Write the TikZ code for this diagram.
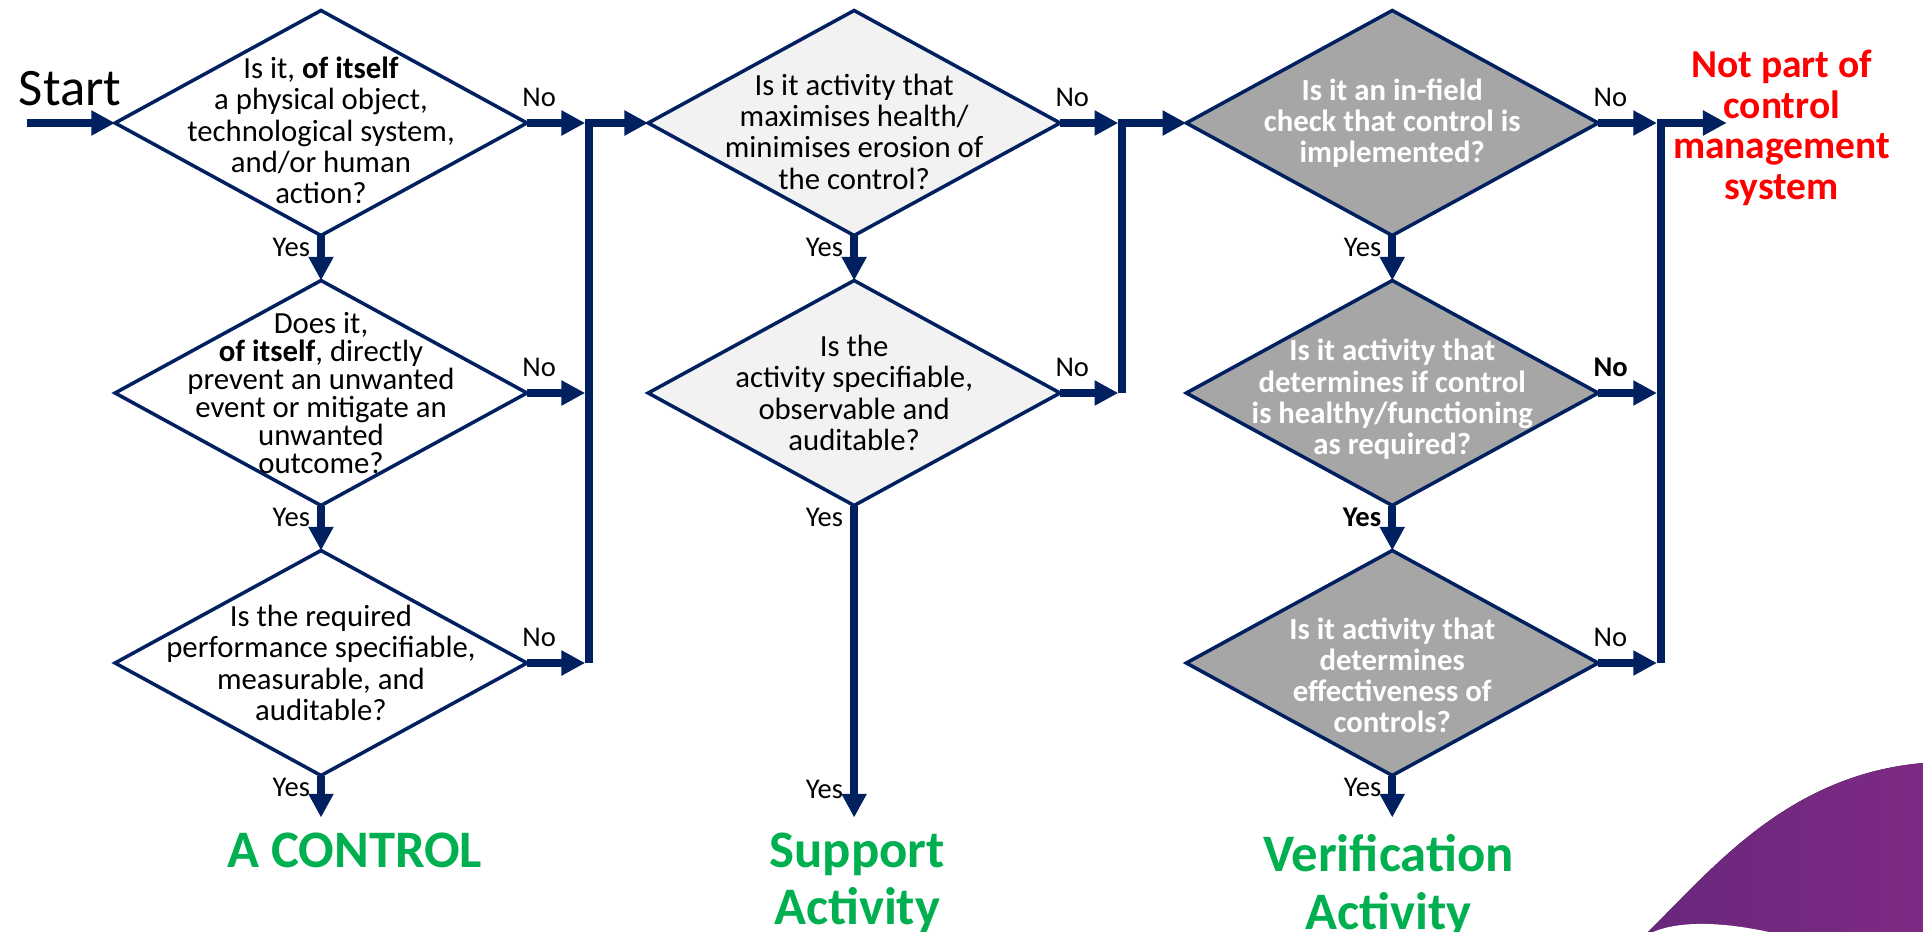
\documentclass[tikz,border=0pt]{standalone}
\usepackage{fontspec}
\setmainfont{Carlito}
\usetikzlibrary{positioning, shapes.geometric, arrows.meta}

\definecolor{flowblue}{HTML}{002060}
\definecolor{lightq}{HTML}{F2F2F2}
\definecolor{darkq}{HTML}{A6A6A6}
\definecolor{okgreen}{HTML}{00B050}
\definecolor{nored}{HTML}{FF0000}
\definecolor{plumL}{RGB}{104,40,124}
\definecolor{plumR}{RGB}{126,41,131}

\begin{document}
\begin{tikzpicture}[
        node distance=0.72cm and 1.94cm,
        decision/.style={diamond, draw=flowblue, line width=1.6pt, fill=white, minimum width=6.59cm, minimum height=3.6cm, inner sep=0pt, outer sep=0pt},
        softq/.style={decision, fill=lightq},
        hardq/.style={decision, fill=darkq},
        qtext/.style={align=center, inner sep=0pt, font=\fontsize{14}{14.2}\selectfont},
        hardtext/.style={qtext, text=white, font=\fontsize{14}{14.2}\selectfont\bfseries},
        lbl/.style={inner sep=0pt, font=\fontsize{13}{13}\selectfont},
        boldlbl/.style={font=\fontsize{13}{13}\selectfont\bfseries},
        nolbl/.style={lbl, anchor=south west, xshift=-0.08cm, yshift=0.25cm},
        yeslbl/.style={lbl, anchor=south east, xshift=-0.17cm, yshift=-0.34cm},
        result/.style={align=center, inner sep=0pt, text=okgreen, font=\fontsize{24}{26}\selectfont\bfseries},
        link/.style={-{Triangle[length=10.8pt, width=10.8pt]}, draw=flowblue, line width=3.6pt},
        tobus/.style={link, shorten >=1.7pt}
    ]

    \useasboundingbox (0,0) rectangle (30.768,-14.912);

    % Corner swoosh
    \fill[left color=plumL, right color=plumR] (26.368,-14.912) .. controls (27.4,-13.9) and (28.6,-12.4) .. (30.768,-12.208) -- (30.768,-14.912) -- cycle;
    \fill[white] (26.45,-14.912) .. controls (26.9,-14.72) and (27.6,-14.76) .. (28.3,-14.912) -- cycle;

    % Column 1: is it a control?
    \node[decision] (d1) at (5.136,-1.968) {};
    \node[decision, below=of d1] (d2) {};
    \node[decision, below=of d2] (d3) {};
    \node[qtext, yshift=-0.12cm] (q1) at (d1) {Is it, \textbf{of itself}\\a physical object,\\technological system,\\and/or human\\action?};
    \node[qtext, font=\fontsize{14}{12.7}\selectfont] (q2) at (d2) {Does it,\\\textbf{of itself}, directly\\prevent an unwanted\\event or mitigate an\\unwanted\\outcome?};
    \node[qtext] (q3) at (d3) {Is the required\\performance specifiable,\\measurable, and\\auditable?};

    % Column 2: support activity
    \node[softq, right=of d1] (d4) {};
    \node[softq, below=of d4] (d5) {};
    \node[qtext, yshift=-0.14cm] (q4) at (d4) {Is it activity that\\maximises health/\\minimises erosion of\\the control?};
    \node[qtext] (q5) at (d5) {Is the\\activity specifiable,\\observable and\\auditable?};

    % Column 3: verification activity
    \node[hardq, right=2.02cm of d4] (d6) {};
    \node[hardq, below=of d6] (d7) {};
    \node[hardq, below=of d7] (d8) {};
    \node[hardtext] (q6) at (d6) {Is it an in-field\\check that control is\\implemented?};
    \node[hardtext, yshift=-0.1cm] (q7) at (d7) {Is it activity that\\determines if control\\is healthy/functioning\\as required?};
    \node[hardtext, yshift=-0.2cm] (q8) at (d8) {Is it activity that\\determines\\effectiveness of\\controls?};

    % Start
    \coordinate (start) at ([xshift=-1.416cm]d1.west);
    \node[anchor=south west, inner sep=0pt, font=\fontsize{24}{24}\selectfont] (st) at ([xshift=-0.13cm, yshift=0.26cm]start) {Start};
    \draw[link] (start) -- (d1.west);

    % Buses
    \coordinate (b1t) at ([xshift=0.992cm]d1.east);
    \coordinate (b1b) at (b1t |- d3.east);
    \coordinate (b2t) at ([xshift=0.992cm]d4.east);
    \coordinate (b2b) at (b2t |- d5.east);
    \coordinate (b3t) at ([xshift=1cm]d6.east);
    \coordinate (b3b) at (b3t |- d8.east);
    \coordinate (nt) at ([xshift=1.056cm]b3t);

    \draw[link] (b1b) -- (b1t) -- (d4.west);
    \draw[link] (b2b) -- (b2t) -- (d6.west);
    \draw[link] (b3b) -- (b3t) -- (nt);

    % No branches
    \draw[tobus] (d1.east) -- (b1t);
    \draw[tobus] (d2.east) -- (d2.east -| b1t);
    \draw[tobus] (d3.east) -- (b1b);
    \draw[tobus] (d4.east) -- (b2t);
    \draw[tobus] (d5.east) -- (b2b);
    \draw[tobus] (d6.east) -- (b3t);
    \draw[tobus] (d7.east) -- (d7.east -| b3t);
    \draw[tobus] (d8.east) -- (b3b);

    \node[nolbl] (no1) at (d1.east) {No};
    \node[nolbl] (no2) at (d2.east) {No};
    \node[nolbl] (no3) at (d3.east) {No};
    \node[nolbl] (no4) at (d4.east) {No};
    \node[nolbl] (no5) at (d5.east) {No};
    \node[nolbl] (no6) at (d6.east) {No};
    \node[nolbl, boldlbl] (no7) at (d7.east) {No};
    \node[nolbl] (no8) at (d8.east) {No};

    % Yes branches
    \coordinate[below=0.672cm of d3.south] (e1);
    \coordinate (e2) at (d5.south |- e1);
    \coordinate (e3) at (d8.south |- e1);

    \draw[link] (d1.south) -- (d2.north);
    \draw[link] (d2.south) -- (d3.north);
    \draw[link] (d3.south) -- (e1);
    \draw[link] (d4.south) -- (d5.north);
    \draw[link] (d5.south) -- (e2);
    \draw[link] (d6.south) -- (d7.north);
    \draw[link] (d7.south) -- (d8.north);
    \draw[link] (d8.south) -- (e3);

    \node[yeslbl] (yes1) at (d1.south) {Yes};
    \node[yeslbl] (yes2) at (d2.south) {Yes};
    \node[yeslbl] (yes3) at (d3.south) {Yes};
    \node[yeslbl] (yes4) at (d4.south) {Yes};
    \node[yeslbl] (yes5) at (d5.south) {Yes};
    \node[lbl, anchor=south east] (yes5b) at ([xshift=-0.17cm, yshift=0.3cm]e2) {Yes};
    \node[yeslbl] (yes6) at (d6.south) {Yes};
    \node[yeslbl, boldlbl] (yes7) at (d7.south) {Yes};
    \node[yeslbl] (yes8) at (d8.south) {Yes};

    % Outcomes
    \node[result, anchor=north] (ctrl) at ([xshift=0.54cm, yshift=-0.24cm]e1) {A CONTROL};
    \node[result, anchor=north] (supp) at ([xshift=0.05cm, yshift=-0.24cm]e2) {Support\\Activity};
    \node[result, anchor=north] (verif) at ([xshift=-0.06cm, yshift=-0.27cm]e3) {Verification\\Activity};
    \node[align=center, inner sep=0pt, text=nored, font=\fontsize{18}{18.5}\selectfont\bfseries] (nomms) at ([xshift=0.88cm, yshift=-0.08cm]nt) {Not part of\\control\\management\\system};

    \end{tikzpicture}
\end{document}
